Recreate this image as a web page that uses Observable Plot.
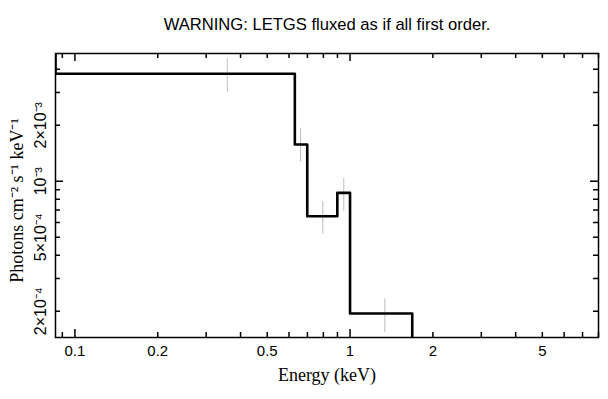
<!DOCTYPE html>
<html>
<head>
<meta charset="utf-8">
<script src="https://cdn.jsdelivr.net/npm/d3@7"></script>
<script src="https://cdn.jsdelivr.net/npm/@observablehq/plot@0.6"></script>
<style>
  html, body { margin: 0; padding: 0; background: #fff; }
  svg { display: block; }
</style>
</head>
<body>
<div id="chart"></div>
<script>
// Histogram bins (keV) and flux (photons cm^-2 s^-1 keV^-1)
const binEdges = [0.085, 0.630, 0.699, 0.899, 1.0, 1.683];
const binValues = [3.78e-3, 1.575e-3, 6.48e-4, 8.66e-4, 1.945e-4];
const valueBefore = 1e-2;   // off-scale above
const valueAfter = 1e-5;    // off-scale below

// Error bars
const errEnergy = [0.358, 0.661, 0.796, 0.949, 1.338];
const errLow = [3.01e-3, 1.265e-3, 5.17e-4, 6.90e-4, 1.54e-4];
const errHigh = [4.55e-3, 1.912e-3, 7.78e-4, 1.038e-3, 2.33e-4];

// Axis ticks
const xMajorTicks = [0.1, 1];
const xMinorTicks = [0.09, 0.2, 0.3, 0.4, 0.5, 0.6, 0.7, 0.8, 0.9, 2, 3, 4, 5, 6, 7, 8];
const xTickLabels = [0.1, 0.2, 0.5, 1, 2, 5];
const yMajorTicks = [1e-3];
const yMinorTicks = [2e-4, 3e-4, 4e-4, 5e-4, 6e-4, 7e-4, 8e-4, 9e-4, 2e-3, 3e-3, 4e-3];
const yTickLabels = [2e-4, 5e-4, 1e-3, 2e-3];
const yTickText = ["2×10⁻⁴", "5×10⁻⁴", "10⁻³", "2×10⁻³"];

const title = "WARNING: LETGS fluxed as if all first order.";
const xLabel = "Energy (keV)";
const yLabel = "Photons cm⁻² s⁻¹ keV⁻¹";

// Build step path points
const stepPts = [{e: binEdges[0] * 0.9, v: valueBefore}];
binValues.forEach((v, i) => stepPts.push({e: binEdges[i], v}));
stepPts.push({e: binEdges[binEdges.length - 1], v: valueAfter});

const errData = errEnergy.map((e, i) => ({e, lo: errLow[i], hi: errHigh[i]}));

const sans = "'Liberation Sans', Arial, Helvetica, sans-serif";
const serif = "'Liberation Serif', 'Times New Roman', serif";

const W = 608, H = 399, mL = 55, mR = 10, mT = 53, mB = 62;
const fw = W - mL - mR, fh = H - mT - mB;
const tickW = 1.5, majLen = 8, minLen = 5;

const plot = Plot.plot({
  width: W,
  height: H,
  marginLeft: mL,
  marginRight: mR,
  marginTop: mT,
  marginBottom: mB,
  style: {fontFamily: sans, fontSize: "14px", color: "#000", background: "#fff"},
  x: {type: "log", domain: [0.085, 8], axis: null},
  y: {type: "log", domain: [1.445e-4, 4.86e-3], axis: null},
  marks: [
    Plot.ruleX(errData, {x: "e", y1: "lo", y2: "hi", stroke: "#bdbdbd", strokeWidth: 1}),
    Plot.line(stepPts, {x: "e", y: "v", curve: "step-after", stroke: "#000", strokeWidth: 2.6, clip: true}),
    // ticks inward on all four sides
    Plot.ruleX(xMajorTicks, {x: d => d, insetTop: fh - majLen, stroke: "#000", strokeWidth: tickW}),
    Plot.ruleX(xMinorTicks, {x: d => d, insetTop: fh - minLen, stroke: "#000", strokeWidth: tickW}),
    Plot.ruleX(xMajorTicks, {x: d => d, insetBottom: fh - majLen, stroke: "#000", strokeWidth: tickW}),
    Plot.ruleX(xMinorTicks, {x: d => d, insetBottom: fh - minLen, stroke: "#000", strokeWidth: tickW}),
    Plot.ruleY(yMajorTicks, {y: d => d, insetRight: fw - majLen, stroke: "#000", strokeWidth: tickW}),
    Plot.ruleY(yMinorTicks, {y: d => d, insetRight: fw - minLen, stroke: "#000", strokeWidth: tickW}),
    Plot.ruleY(yMajorTicks, {y: d => d, insetLeft: fw - majLen, stroke: "#000", strokeWidth: tickW}),
    Plot.ruleY(yMinorTicks, {y: d => d, insetLeft: fw - minLen, stroke: "#000", strokeWidth: tickW}),
    // tick labels
    Plot.text(xTickLabels, {x: d => d, text: d => String(d), frameAnchor: "bottom", dy: 14, lineAnchor: "middle", fontSize: 15, fill: "#000"}),
    Plot.text(yTickLabels, {y: d => d, text: (d, i) => yTickText[i], frameAnchor: "left", dx: -15, rotate: -90, textAnchor: "middle", lineAnchor: "middle", fontSize: 16, fill: "#000"}),
    Plot.frame({stroke: "#000", strokeWidth: 1.5}),
    // labels
    Plot.text([title], {frameAnchor: "top", dy: -35, textAnchor: "middle", fontSize: 16.6, fill: "#000"}),
    Plot.text([xLabel], {frameAnchor: "bottom", dy: 43, textAnchor: "middle", fontSize: 18, fontFamily: serif, fill: "#000"}),
    Plot.text([yLabel], {frameAnchor: "left", dx: -38, dy: 5, rotate: -90, textAnchor: "middle", lineAnchor: "middle", fontSize: 18, fontFamily: serif, fill: "#000"})
  ]
});
document.getElementById("chart").appendChild(plot);
</script>
</body>
</html>
